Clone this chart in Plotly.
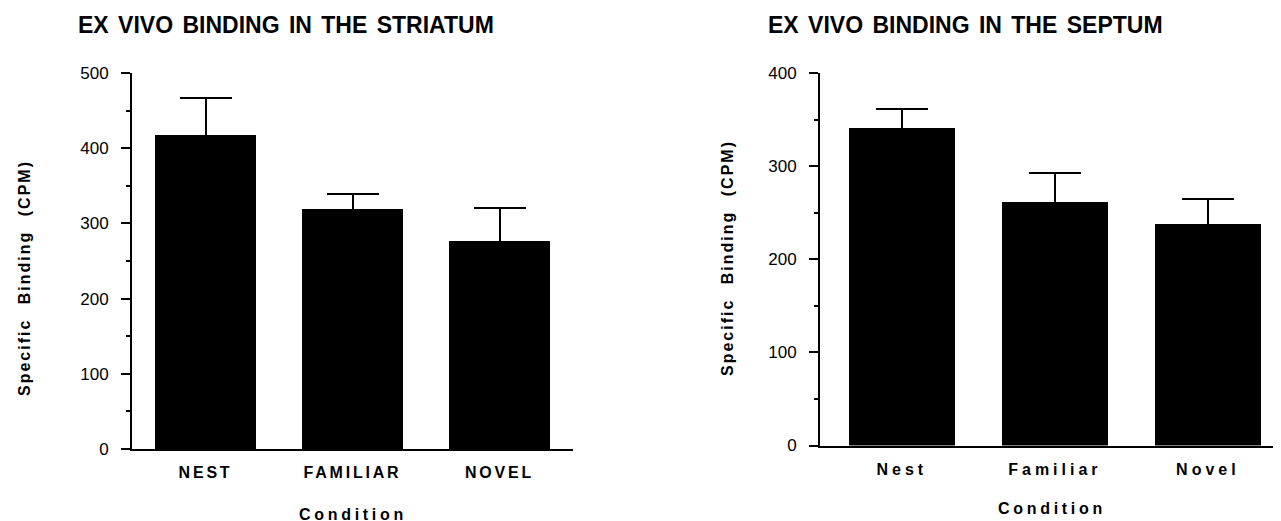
import plotly.graph_objects as go

# Data
cats_left = ["NEST", "FAMILIAR", "NOVEL"]
striatum_mean = [417, 319, 277]
striatum_top = [467, 339, 320]

cats_right = ["Nest", "Familiar", "Novel"]
septum_mean = [341, 262, 238]
septum_top = [361, 293, 265]

ticks_left = [0, 100, 200, 300, 400, 500]
ticks_right = [0, 100, 200, 300, 400]

striatum_err = [t - m for t, m in zip(striatum_top, striatum_mean)]
septum_err = [t - m for t, m in zip(septum_top, septum_mean)]

W, H = 1281, 521
OFF = 8  # page body margin


def fx(px):
    return (px - OFF) / W


def fy(py):
    return 1 - (py - OFF) / H


def spaced(s, ls, ws=0):
    return f'<span style="letter-spacing:{ls}px;word-spacing:{ws}px">{s}</span>'


fig = go.Figure()
err_style = dict(type="data", symmetric=True, color="black", thickness=2, width=26)

fig.add_trace(go.Bar(
    x=list(range(3)), y=striatum_mean, width=0.69,
    marker=dict(color="black", line=dict(width=0)),
    error_y=dict(array=striatum_err, **err_style),
    xaxis="x", yaxis="y", showlegend=False,
))
fig.add_trace(go.Bar(
    x=list(range(3)), y=septum_mean, width=0.69,
    marker=dict(color="black", line=dict(width=0)),
    error_y=dict(array=septum_err, **err_style),
    xaxis="x2", yaxis="y2", showlegend=False,
))

FAM = "Liberation Sans, Arial, sans-serif"
tickfont = dict(family=FAM, size=17, color="black")
boldfont = dict(family=FAM, size=16, color="black", weight="bold")

common_x = dict(showline=True, linecolor="black", linewidth=2, ticks="", showgrid=False,
                zeroline=False, tickmode="array", tickfont=boldfont, ticklabelstandoff=8)
common_y = dict(showline=True, linecolor="black", linewidth=2, ticks="outside", ticklen=9,
                tickwidth=2, tickcolor="black", showgrid=False, zeroline=False,
                tickfont=tickfont, tickmode="array", ticklabelstandoff=9,
                minor=dict(dtick=50, ticks="outside", ticklen=4,
                           tickwidth=1.5, tickcolor="black"))

fig.update_layout(
    width=W, height=H, margin=dict(l=0, r=0, t=0, b=0, autoexpand=False),
    paper_bgcolor="white", plot_bgcolor="white", bargap=0,
    xaxis=dict(domain=[fx(132), fx(573)], range=[-0.5, 2.5],
               tickvals=list(range(3)), ticktext=[spaced(c, 2.8) for c in cats_left],
               anchor="y", **common_x),
    yaxis=dict(domain=[fy(449), fy(73)], range=[0, 500], anchor="x",
               tickvals=ticks_left, ticktext=[str(v) for v in ticks_left], **common_y),
    xaxis2=dict(domain=[fx(820), 1.0], range=[-0.535, 2.53],
                tickvals=list(range(3)), ticktext=[spaced(c, 4) for c in cats_right],
                anchor="y2", **common_x),
    yaxis2=dict(domain=[fy(445.5), fy(73)], range=[0, 400], anchor="x2",
                tickvals=ticks_right, ticktext=[str(v) for v in ticks_right], **common_y),
)

ann_title = dict(family=FAM, size=23, color="black", weight="bold")
titles = [
    ("EX VIVO BINDING IN THE STRIATUM", 285.5, 25),
    ("EX VIVO BINDING IN THE SEPTUM", 965, 25),
]
for t, xp, yp in titles:
    fig.add_annotation(text=spaced(t, 0, 3), xref="paper", yref="paper", x=fx(xp), y=fy(yp),
                       showarrow=False, xanchor="center", yanchor="middle", font=ann_title)

ylabel = "Specific Binding (CPM)"
for xp, yp in [(24, 278), (727, 258)]:
    fig.add_annotation(text=spaced(ylabel, 2, 8), xref="paper", yref="paper", x=fx(xp),
                       y=fy(yp), showarrow=False, textangle=-90, xanchor="center",
                       yanchor="middle", font=boldfont)
for xp, yp in [(353, 514), (1052, 508)]:
    fig.add_annotation(text=spaced("Condition", 3.7), xref="paper", yref="paper", x=fx(xp),
                       y=fy(yp), showarrow=False, xanchor="center", yanchor="middle",
                       font=boldfont)

fig.write_html("out.html")
